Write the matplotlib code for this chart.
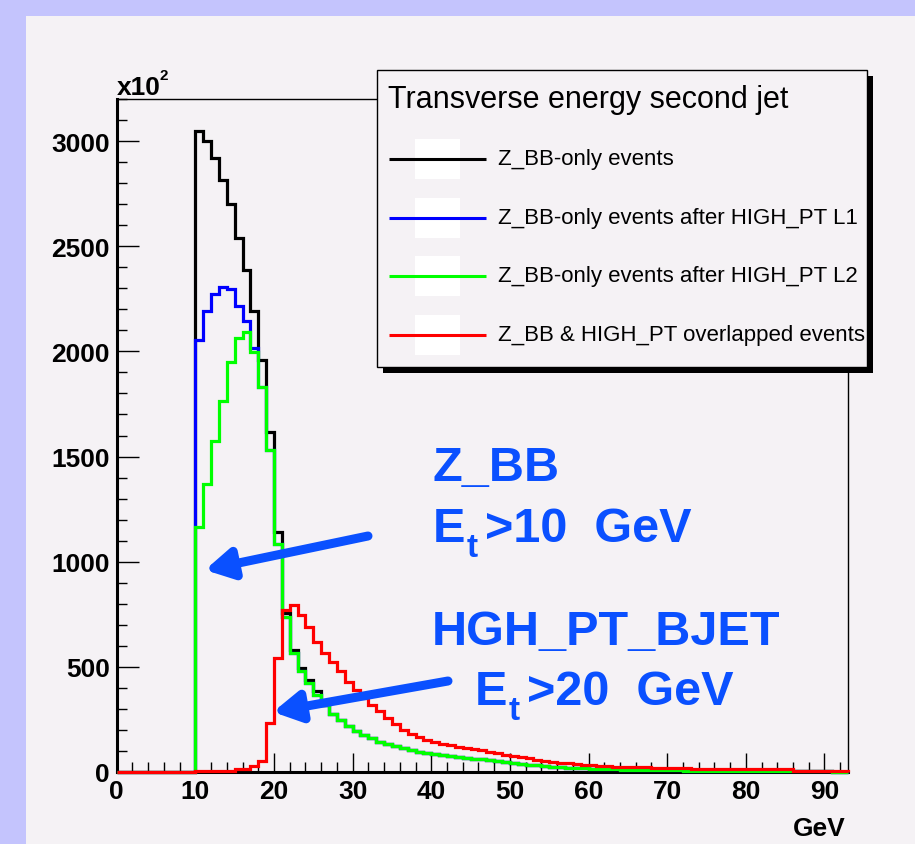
import numpy as np
import matplotlib
matplotlib.use('Agg')
import matplotlib.pyplot as plt
from matplotlib.patches import Rectangle, FancyArrowPatch
from matplotlib.ticker import MultipleLocator

plt.rcParams['font.family'] = ['Liberation Sans', 'DejaVu Sans']

# 1 GeV bins from 0 to 93, counts in units of 10^2
bin_edges = np.arange(0, 94)

zbb_only = [
    0, 0, 0, 0, 0, 0, 0, 0, 0, 0,
    3050, 2998, 2918, 2816, 2700, 2539, 2385, 2190, 1961, 1619,
    1139, 755, 578, 494, 438, 385, 318, 276, 247, 220,
    197, 177, 160, 145, 133, 122, 112, 104, 97, 90,
    86, 80, 76, 72, 68, 64, 60, 56, 52, 46,
    42, 37, 34, 31, 29, 26, 24, 21, 19, 17,
    16, 15, 14, 12, 11, 11, 10, 10, 9, 9,
    8, 8, 7, 6, 6, 6, 5, 5, 5, 5,
    4, 4, 4, 4, 4, 4, 3, 3, 3, 3,
    3, 2, 2,
]

zbb_after_l1 = [
    0, 0, 0, 0, 0, 0, 0, 0, 0, 0,
    2056, 2190, 2273, 2304, 2296, 2217, 2146, 2016, 1830, 1530,
    1083, 735, 565, 482, 425, 368, 318, 276, 247, 220,
    197, 177, 160, 145, 133, 122, 112, 104, 97, 90,
    86, 80, 76, 72, 68, 64, 60, 56, 52, 46,
    42, 37, 34, 31, 29, 26, 24, 21, 19, 17,
    16, 15, 14, 12, 11, 11, 10, 10, 9, 9,
    8, 8, 7, 6, 6, 6, 5, 5, 5, 5,
    4, 4, 4, 4, 4, 4, 3, 3, 3, 3,
    3, 2, 2,
]

zbb_after_l2 = [
    0, 0, 0, 0, 0, 0, 0, 0, 0, 0,
    1165, 1371, 1573, 1763, 1950, 2064, 2092, 1998, 1830, 1530,
    1083, 735, 565, 482, 425, 368, 318, 276, 247, 220,
    197, 177, 160, 145, 133, 122, 112, 104, 97, 90,
    86, 80, 76, 72, 68, 64, 60, 56, 52, 46,
    42, 37, 34, 31, 29, 26, 24, 21, 19, 17,
    16, 15, 14, 12, 11, 11, 10, 10, 9, 9,
    8, 8, 7, 6, 6, 6, 5, 5, 5, 5,
    4, 4, 4, 4, 4, 4, 3, 3, 3, 3,
    3, 2, 2,
]

overlapped = [
    0, 0, 0, 0, 0, 0, 0, 0, 0, 0,
    3, 3, 4, 5, 6, 14, 16, 30, 54, 233,
    541, 768, 792, 748, 690, 620, 566, 525, 480, 428,
    388, 350, 320, 288, 258, 230, 202, 182, 165, 152,
    142, 134, 127, 121, 116, 110, 104, 97, 90, 83,
    77, 71, 65, 59, 54, 49, 45, 41, 37, 34,
    31, 29, 27, 25, 24, 23, 22, 22, 20, 19,
    19, 18, 18, 16, 16, 15, 15, 15, 15, 14,
    14, 14, 14, 13, 13, 13, 7, 7, 6, 6,
    6, 5, 5,
]

series_labels = [
    'Z_BB-only events',
    'Z_BB-only events after HIGH_PT L1',
    'Z_BB-only events after HIGH_PT L2',
    'Z_BB & HIGH_PT overlapped events',
]
series_colors = ['black', '#0000ff', '#00ff00', '#ff0000']

x_ticks = [0, 10, 20, 30, 40, 50, 60, 70, 80, 90]
y_ticks = [0, 500, 1000, 1500, 2000, 2500, 3000]

W, H = 915, 845
fig = plt.figure(figsize=(W / 100, H / 100), dpi=100)
fig.patch.set_facecolor('#c4c4fd')
panel_col = '#f5f2f5'
fig.add_artist(Rectangle((26 / W, 0), 1, (H - 17) / H, transform=fig.transFigure,
                         facecolor=panel_col, edgecolor='none', zorder=0))

# main frame, pixel box 116.7..848 x 100..773
ax = fig.add_axes([116.7 / W, (H - 773) / H, (848 - 116.7) / W, (773 - 100) / H], zorder=1)
ax.set_facecolor('none')

for vals, col in zip([zbb_only, zbb_after_l1, zbb_after_l2, overlapped], series_colors):
    ax.stairs(vals, bin_edges, color=col, lw=2.3, clip_on=False, zorder=3)

ax.set_xlim(0, 93)
ax.set_ylim(0, 3200)
ax.set_xticks(x_ticks)
ax.set_xticklabels([str(t) for t in x_ticks], fontweight='bold', fontsize=19)
ax.set_yticks(y_ticks)
ax.set_yticklabels([str(t) for t in y_ticks], fontweight='bold', fontsize=19)
ax.xaxis.set_minor_locator(MultipleLocator(2))
ax.yaxis.set_minor_locator(MultipleLocator(100))
ax.tick_params(which='both', direction='in', top=False, right=False, width=1.0)
ax.tick_params(axis='x', which='major', length=14, pad=5)
ax.tick_params(axis='y', which='major', length=15.5, pad=5)
ax.tick_params(which='minor', length=7.5)
for s in ['left', 'bottom']:
    ax.spines[s].set_linewidth(2.2)
for s in ['top', 'right']:
    ax.spines[s].set_linewidth(1.0)

# overlay in pixel coords for legend and notes
ov = fig.add_axes([0, 0, 1, 1], zorder=5)
ov.set_xlim(0, W)
ov.set_ylim(H, 0)
ov.axis('off')

ov.text(117, 95, 'x10', fontsize=19, fontweight='bold', va='baseline')
ov.text(160, 80, '2', fontsize=11, fontweight='bold', va='baseline')
ov.text(846, 836, 'GeV', fontsize=19, fontweight='bold', ha='right', va='baseline')

# legend box
bx, by, bw, bh = 377.3, 71, 489.4, 297.3
ov.add_patch(Rectangle((bx + 6, by + 6), bw, bh, facecolor='black', edgecolor='none'))
box = Rectangle((bx, by), bw, bh, facecolor=panel_col, edgecolor='black', lw=1.0)
ov.add_patch(box)
ov.text(388, 100, 'Transverse energy second jet', fontsize=22, va='center')
entry_y = [160, 218.5, 277, 336]
for yy, lab, col in zip(entry_y, series_labels, series_colors):
    ov.add_patch(Rectangle((415, yy - 20), 45, 40, facecolor='white', edgecolor='none'))
    ov.plot([389, 486], [yy, yy], color=col, lw=2.2, solid_capstyle='butt')
    t = ov.text(498, yy, lab, fontsize=16, va='center')
    t.set_clip_path(box)

# blue annotations
note_col = '#0a50ff'
big = dict(color=note_col, fontsize=35, fontweight='bold', va='baseline')
small = dict(color=note_col, fontsize=24, fontweight='bold', va='baseline')
ov.text(433, 481, 'Z_BB', **big)
ov.text(433, 541.7, 'E', **big)
ov.text(467, 557, 't', **small)
ov.text(485, 541.7, '>10  GeV', **big)
ov.text(431.7, 645, 'HGH_PT_BJET', **big)
ov.text(475, 705, 'E', **big)
ov.text(509, 720, 't', **small)
ov.text(527, 705, '>20  GeV', **big)

for tail, tip in [((368, 537), (205, 571)), ((448, 682), (273, 713))]:
    ov.add_patch(FancyArrowPatch(tail, tip, arrowstyle='-|>,head_length=16,head_width=9',
                                 color=note_col, lw=6.5, capstyle='round',
                                 shrinkA=0, shrinkB=0, mutation_scale=1))

fig.savefig('out.png', dpi=100, facecolor=fig.get_facecolor())
